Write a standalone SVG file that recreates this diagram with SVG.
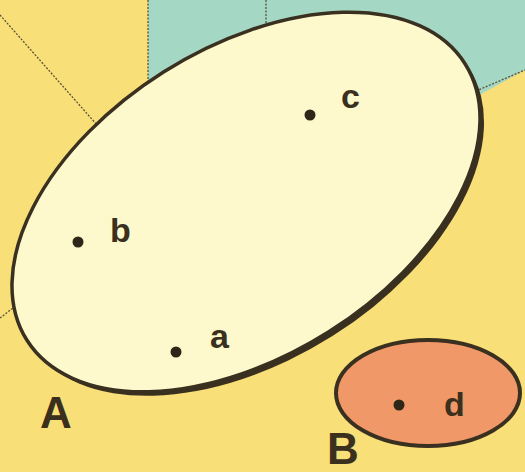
<svg xmlns="http://www.w3.org/2000/svg" width="525" height="472" viewBox="0 0 525 472">
<style>
.lbl{font-family:"Liberation Sans",Arial,sans-serif;font-weight:bold;fill:#3b2f1e}
.small{font-size:34px}
.big{font-size:44px}
.dot{fill:#2e2618}
.dash{stroke:#5a5236;stroke-width:1.3;stroke-dasharray:2 1.5;fill:none}
</style>
<rect id="background" x="0" y="0" width="525" height="472" fill="#f8df78"/>
<g id="regions">
<polygon points="148,0 525,0 525,70 470,100 148,84" fill="#a4d7c4"/>
<line class="dash" x1="148" y1="0" x2="148" y2="82"/>
<line class="dash" x1="266" y1="0" x2="266" y2="26"/>
<line class="dash" x1="476" y1="91" x2="525" y2="70"/>
<line class="dash" x1="0" y1="15" x2="98" y2="126"/>
<line class="dash" x1="0" y1="318" x2="13" y2="308"/>
</g>
<g id="set-A">
<ellipse cx="250" cy="206" rx="259" ry="154" transform="rotate(-32.2 250 206)" fill="#3a3020"/>
<ellipse cx="246" cy="202" rx="259" ry="154" transform="rotate(-32.2 246 202)" fill="#fdf9cc" stroke="#3a3020" stroke-width="3.5"/>
<text class="lbl big" x="56" y="428" text-anchor="middle">A</text>
</g>
<g id="set-B">
<ellipse cx="428" cy="393" rx="92" ry="53" fill="#f19868" stroke="#3a3020" stroke-width="4"/>
<text class="lbl big" x="343" y="464" text-anchor="middle">B</text>
</g>
<g id="point-a">
<circle class="dot" cx="176" cy="352" r="5.5"/>
<text class="lbl small" x="210" y="348">a</text>
</g>
<g id="point-b">
<circle class="dot" cx="78" cy="242" r="5.5"/>
<text class="lbl small" x="110" y="242">b</text>
</g>
<g id="point-c">
<circle class="dot" cx="310" cy="115" r="5.5"/>
<text class="lbl small" x="341" y="108">c</text>
</g>
<g id="point-d">
<circle class="dot" cx="399" cy="405" r="5.5"/>
<text class="lbl small" x="444" y="416">d</text>
</g>
</svg>
